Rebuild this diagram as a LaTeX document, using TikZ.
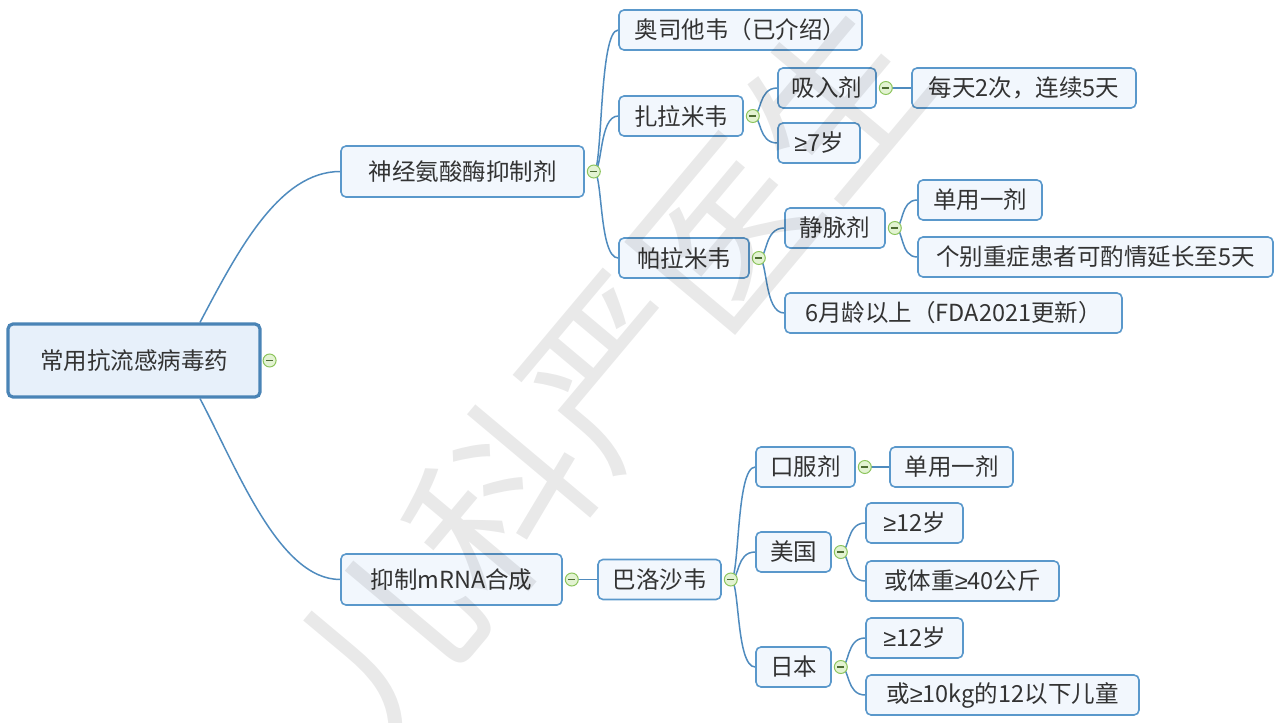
\documentclass[tikz,border=0pt]{standalone}
\usepackage{fontspec}
\newfontfamily\cjk{Noto Sans CJK SC}
\newfontfamily\sym{Liberation Sans}
\usetikzlibrary{backgrounds}

\definecolor{linec}{HTML}{4F8BBE}
\definecolor{boxc}{HTML}{5A98CB}
\definecolor{rootc}{HTML}{4A84B6}
\definecolor{fillc}{HTML}{F2F7FD}
\definecolor{rootfill}{HTML}{E7F0FA}
\definecolor{knobc}{HTML}{8CC45C}
\definecolor{knobfill}{HTML}{E3F3D2}
\definecolor{textc}{HTML}{333333}

\newcommand{\gesign}{{\sym ≥}}

\tikzset{
        topic/.style={draw=boxc, line width=1.6pt, fill=fillc, rounded corners=5pt, text=textc,
                font=\cjk\fontsize{23.5}{27}\selectfont, inner sep=0pt, minimum height=40pt},
        roottopic/.style={topic, draw=rootc, line width=3.2pt, fill=rootfill, minimum height=73pt},
        maintopic/.style={topic, minimum height=51pt},
        link/.style={draw=linec, line width=1.5pt},
        branch/.style={link, to path={.. controls ([xshift=9pt]\tikztostart) and ([xshift=5pt]\tikztostart |- \tikztotarget) .. (\tikztotarget)}},
        knob/.style={circle, draw=knobc, fill=knobfill, line width=1pt, minimum size=13pt, inner sep=0pt,
                path picture={\draw[knobc!55!black, line width=1.2pt] ([xshift=-3.5pt]path picture bounding box.center) -- ([xshift=3.5pt]path picture bounding box.center);}}
}

\begin{document}
\begin{tikzpicture}[x=1pt,y=-1pt]
        \useasboundingbox (0,0) rectangle (1280,723);
        \clip (0,0) rectangle (1280,723);

        \node[roottopic, minimum width=252pt] (n_1) at (134,360.5) {常用抗流感病毒药};
        \node[maintopic, minimum width=243pt] (n_2) at (462.5,171.5) {神经氨酸酶抑制剂};
        \node[maintopic, minimum width=221pt] (n_3) at (451.5,579.5) {抑制mRNA合成};

        \node[topic, minimum width=243pt] (n_4) at (740.5,30) {奥司他韦（已介绍）};
        \node[topic, minimum width=124pt] (n_5) at (681,116) {扎拉米韦};
        \node[topic, minimum width=130pt] (n_6) at (684,258) {帕拉米韦};
        \node[topic, minimum width=98pt] (n_7) at (827,88) {吸入剂};
        \node[topic, minimum width=82pt] (n_8) at (819,143) {\gesign7岁};
        \node[topic, minimum width=224pt] (n_9) at (1024,88) {每天2次，连续5天};
        \node[topic, minimum width=100pt] (n_10) at (835,228) {静脉剂};
        \node[topic, minimum width=337pt] (n_11) at (953.5,313) {6月龄以上（FDA2021更新）};
        \node[topic, minimum width=124pt] (n_12) at (980,200) {单用一剂};
        \node[topic, minimum width=355pt] (n_13) at (1095.5,257) {个别重症患者可酌情延长至5天};

        \node[topic, minimum width=123pt] (n_14) at (659.5,579.5) {巴洛沙韦};
        \node[topic, minimum width=99pt] (n_15) at (805.5,467) {口服剂};
        \node[topic, minimum width=75pt] (n_16) at (793.5,552) {美国};
        \node[topic, minimum width=75pt] (n_17) at (793.5,667) {日本};
        \node[topic, minimum width=123pt] (n_18) at (951.5,467) {单用一剂};
        \node[topic, minimum width=97pt] (n_19) at (914.5,523) {\gesign12岁};
        \node[topic, minimum width=193pt] (n_20) at (962.5,581) {或体重\gesign40公斤};
        \node[topic, minimum width=97pt] (n_21) at (914.5,638) {\gesign12岁};
        \node[topic, minimum width=273pt] (n_22) at (1002.5,695) {或\gesign10kg的12以下儿童};

        \node[knob] (c_1) at ([xshift=8pt]n_1.east) {};
        \foreach \k in {2,3,5,6,7,10,14,15,16,17}
                \node[knob] (c_\k) at ([xshift=9pt]n_\k.east) {};

        \begin{scope}[on background layer]
                \draw[link] ([xshift=66pt]n_1.north) .. controls +(38,-72) and +(-61,0) .. (n_2.west);
                \draw[link] ([xshift=66pt]n_1.south) .. controls +(38,72) and +(-61,0) .. (n_3.west);
                \foreach \a/\b in {2/4,2/5,2/6,5/7,5/8,7/9,6/10,6/11,10/12,10/13,
                                   3/14,14/15,14/16,14/17,15/18,16/19,16/20,17/21,17/22}
                        \draw[branch] (c_\a.center) to (n_\b.west);
        \end{scope}

        \node[rotate=50, text=black, opacity=0.085, font=\cjk\fontsize{175}{175}\selectfont] (wm) at (612,368) {儿科严医生};
\end{tikzpicture}
\end{document}
